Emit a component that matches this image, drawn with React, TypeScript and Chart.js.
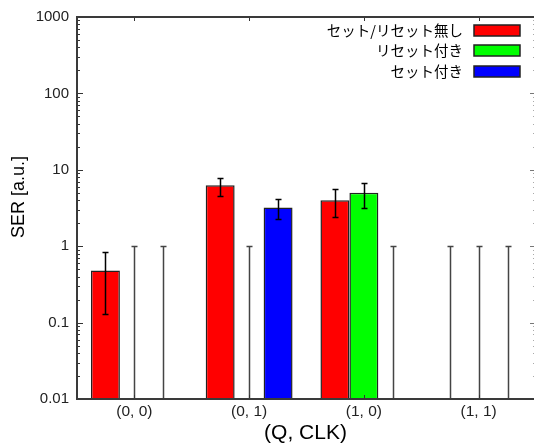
import React, { useEffect, useRef } from 'react';
import { Chart, registerables } from 'chart.js';

Chart.register(...registerables);

const categories = ['(0, 0)', '(0, 1)', '(1, 0)', '(1, 1)'];
const seriesNames = ['セット/リセット無し', 'リセット付き', 'セット付き'];
const seriesColors = ['#ff0000', '#00ff00', '#0000ff'];

const noResetValues = [0.48, 6.3, 4.0, null];
const resetValues = [null, null, 5.0, null];
const setValues = [null, 3.2, null, null];

const noResetErrLow = [0.13, 4.6, 2.4, null];
const noResetErrHigh = [0.84, 7.9, 5.6, 1];
const resetErrLow = [null, null, 3.2, null];
const resetErrHigh = [1, 1, 6.7, 1];
const setErrLow = [null, 2.3, null, null];
const setErrHigh = [1, 4.1, 1, 1];

const yTickValues = [0.01, 0.1, 1, 10, 100, 1000];
const yMin = 0.01;
const yMax = 1000;
const xTitle = '(Q, CLK)';
const yTitle = 'SER [a.u.]';

const CAT_PCT = 0.757;

const decorPlugin = {
  id: 'gnuplotDecor',
  afterDatasetsDraw(chart: any) {
    const ctx = chart.ctx as CanvasRenderingContext2D;
    const area = chart.chartArea;
    const xs = chart.scales.x;
    const ys = chart.scales.y;
    const catW = xs.getPixelForValue(1) - xs.getPixelForValue(0);
    const barW = (catW * CAT_PCT) / 3;
    const values = [noResetValues, resetValues, setValues];
    const lows = [noResetErrLow, resetErrLow, setErrLow];
    const highs = [noResetErrHigh, resetErrHigh, setErrHigh];

    ctx.save();
    ctx.beginPath();
    ctx.rect(area.left, area.top, area.right - area.left, area.bottom - area.top);
    ctx.clip();
    // error bars
    for (let s = 0; s < 3; s++) {
      for (let j = 0; j < categories.length; j++) {
        const hi = highs[s][j];
        if (hi == null) continue;
        const lo = lows[s][j];
        const cx = Math.round(xs.getPixelForValue(j) + (s - 1) * barW) + 0.5;
        const yHi = Math.round(ys.getPixelForValue(hi)) + 0.5;
        const yLo = lo == null ? area.bottom + 2 : Math.round(ys.getPixelForValue(lo)) + 0.5;
        const isEmpty = values[s][j] == null;
        ctx.strokeStyle = isEmpty ? '#444' : '#000';
        ctx.lineWidth = 1.5;
        ctx.beginPath();
        ctx.moveTo(cx, yLo);
        ctx.lineTo(cx, yHi);
        ctx.moveTo(cx - 3, yHi);
        ctx.lineTo(cx + 3, yHi);
        if (lo != null) {
          ctx.moveTo(cx - 3, yLo);
          ctx.lineTo(cx + 3, yLo);
        }
        ctx.stroke();
      }
    }
    ctx.restore();

    // minor and major ticks on left (inward) and right (mirror)
    ctx.save();
    ctx.lineWidth = 1;
    for (let d = yMin; d < yMax * 0.99; d *= 10) {
      for (let k = 2; k <= 9; k++) {
        const y = Math.round(ys.getPixelForValue(d * k)) + 0.5;
        ctx.strokeStyle = '#333';
        ctx.beginPath();
        ctx.moveTo(area.left, y);
        ctx.lineTo(area.left + 3, y);
        ctx.stroke();
        ctx.strokeStyle = '#aaa';
        ctx.beginPath();
        ctx.moveTo(area.right, y);
        ctx.lineTo(area.right - 3, y);
        ctx.stroke();
      }
    }
    for (const v of yTickValues) {
      const y = Math.round(ys.getPixelForValue(v)) + 0.5;
      ctx.strokeStyle = '#333';
      ctx.beginPath();
      ctx.moveTo(area.left, y);
      ctx.lineTo(area.left + 6, y);
      ctx.stroke();
      ctx.strokeStyle = '#777';
      ctx.beginPath();
      ctx.moveTo(area.right, y);
      ctx.lineTo(area.right - 6, y);
      ctx.stroke();
    }
    // x ticks on top (mirror) and bottom
    for (let j = 0; j < categories.length; j++) {
      const x = Math.round(xs.getPixelForValue(j)) + 0.5;
      ctx.strokeStyle = '#333';
      ctx.beginPath();
      ctx.moveTo(x, area.top);
      ctx.lineTo(x, area.top + 4);
      ctx.moveTo(x, area.bottom);
      ctx.lineTo(x, area.bottom - 4);
      ctx.stroke();
    }
    // frame
    ctx.strokeStyle = '#3a3a3a';
    ctx.lineWidth = 2;
    ctx.strokeRect(area.left, area.top, area.right - area.left, area.bottom - area.top);
    ctx.restore();

    // legend
    ctx.save();
    ctx.font = '14.5px "Noto Sans CJK JP"';
    ctx.textAlign = 'right';
    ctx.textBaseline = 'middle';
    const rowY0 = area.top + 13;
    const rowStep = 20.5;
    const boxRight = area.right - 16;
    const boxW = 46;
    const boxH = 11;
    for (let s = 0; s < seriesNames.length; s++) {
      const cy = rowY0 + s * rowStep;
      ctx.fillStyle = '#000';
      ctx.fillText(seriesNames[s], boxRight - boxW - 11, cy);
      const by = Math.round(cy - boxH / 2);
      ctx.fillStyle = seriesColors[s];
      ctx.fillRect(boxRight - boxW, by, boxW, boxH);
      ctx.strokeStyle = '#222';
      ctx.lineWidth = 1.5;
      ctx.strokeRect(boxRight - boxW, by, boxW, boxH);
    }
    ctx.restore();

    // axis titles
    ctx.save();
    ctx.fillStyle = '#000';
    ctx.textAlign = 'center';
    ctx.textBaseline = 'middle';
    ctx.font = '21px "Liberation Sans"';
    ctx.fillText(xTitle, (area.left + area.right) / 2 - 1, 433);
    ctx.translate(19, 197);
    ctx.rotate(-Math.PI / 2);
    ctx.font = '18px "Liberation Sans"';
    ctx.fillText(yTitle, 0, 0);
    ctx.restore();
  },
};

export default function App() {
  const canvasRef = useRef<HTMLCanvasElement | null>(null);

  useEffect(() => {
    const canvas = canvasRef.current;
    if (!canvas) return;
    const seriesValues = [noResetValues, resetValues, setValues];
    const chart = new Chart(canvas, {
      type: 'bar',
      data: {
        labels: categories,
        datasets: seriesNames.map((name, i) => ({
          label: name,
          data: seriesValues[i] as any,
          backgroundColor: seriesColors[i],
          borderColor: '#222',
          borderWidth: 1.5,
          barPercentage: 1,
          categoryPercentage: CAT_PCT,
        })),
      },
      options: {
        animation: false,
        responsive: false,
        maintainAspectRatio: false,
        devicePixelRatio: 1,
        layout: { padding: { top: 15, right: 10, left: 0, bottom: 0 } },
        plugins: {
          legend: { display: false },
          tooltip: { enabled: false },
          title: { display: false },
        },
        scales: {
          x: {
            type: 'category',
            offset: true,
            grid: { display: false, drawTicks: false },
            border: { display: false },
            ticks: {
              font: { family: 'Liberation Sans', size: 15.5 },
              color: '#222',
              padding: 3,
              maxRotation: 0,
              autoSkip: false,
            },
            afterFit: (scale: any) => {
              scale.height = 49;
            },
          },
          y: {
            type: 'logarithmic',
            min: yMin,
            max: yMax,
            grid: { display: false, drawTicks: false },
            border: { display: false },
            afterBuildTicks: (scale: any) => {
              scale.ticks = yTickValues.map((v) => ({ value: v }));
            },
            ticks: {
              font: { family: 'Liberation Sans', size: 15 },
              color: '#222',
              padding: 8,
              autoSkip: false,
              callback: (v: any) => String(Number(v)),
            },
            afterFit: (scale: any) => {
              scale.width = 77;
            },
          },
        },
      },
      plugins: [decorPlugin],
    });
    return () => chart.destroy();
  }, []);

  return (
    <div
      style={{
        position: 'fixed',
        left: 0,
        top: 0,
        width: 534,
        height: 448,
        overflow: 'hidden',
        background: '#fff',
      }}
    >
      <canvas ref={canvasRef} width={546} height={448} style={{ width: 546, height: 448, display: 'block' }} />
    </div>
  );
}
